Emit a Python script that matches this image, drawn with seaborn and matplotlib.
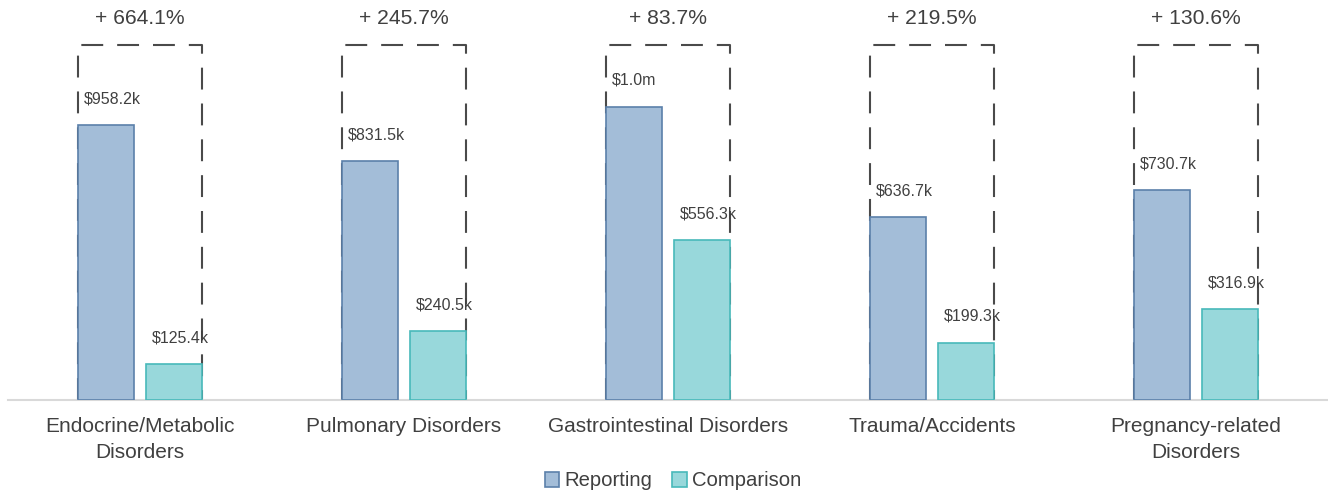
import pandas as pd
import numpy as np
import matplotlib
matplotlib.use("Agg")
import matplotlib.pyplot as plt
from matplotlib.patches import Patch
import seaborn as sns

# Data (values in $k)
categories = ["Endocrine/Metabolic\nDisorders", "Pulmonary Disorders", "Gastrointestinal Disorders",
              "Trauma/Accidents", "Pregnancy-related\nDisorders"]
reporting = [958.2, 831.5, 1021.9, 636.7, 730.7]
comparison = [125.4, 240.5, 556.3, 199.3, 316.9]
series = ["Reporting", "Comparison"]

fills = ["#a3bdd8", "#98d8db"]
edges = ["#5b80aa", "#48b9ba"]
text_color = "#404040"

df = pd.DataFrame({
    "category": categories * 2,
    "value": reporting + comparison,
    "series": [series[0]] * len(categories) + [series[1]] * len(categories),
})

sns.set_style("white")
plt.rcParams["font.family"] = ["Liberation Sans", "DejaVu Sans"]

fig = plt.figure(figsize=(13.28, 4.93), dpi=100)
ax = fig.add_axes([8 / 1328, 93 / 493, 1320 / 1328, 400 / 493])

sns.barplot(data=df, x="category", y="value", hue="series", order=categories,
            hue_order=series, palette=fills, saturation=1, width=0.516, gap=0.178,
            linewidth=1.2, legend=False, ax=ax, zorder=3)

for cont, ec in zip(ax.containers, edges):
    for bar in cont:
        bar.set_edgecolor(ec)

ax.set_ylim(0, 1394)
ax.set_xlim(-0.5, len(categories) - 0.5)
box_top = 1237

def fmt(v):
    if v >= 1000:
        return f"${v / 1000:.1f}m"
    return f"${v:.1f}k"

rep_bars, comp_bars = ax.containers[0], ax.containers[1]
for i in range(len(categories)):
    rb, cb = rep_bars[i], comp_bars[i]
    left = rb.get_x()
    right = cb.get_x() + cb.get_width()
    ax.plot([left, left, right, right], [0, box_top, box_top, 0],
            color="#4a4a4a", lw=1.5, linestyle=(0, (10.5, 6.7)), zorder=1,
            solid_capstyle="butt", dash_capstyle="butt")
    pct = (reporting[i] / comparison[i] - 1) * 100
    ax.text((left + right) / 2, 1328, f"+ {pct:.1f}%", ha="center", va="center",
            fontsize=15.2, color=text_color)
    for bar, v in ((rb, reporting[i]), (cb, comparison[i])):
        ax.annotate(fmt(v), xy=(bar.get_x(), v), xytext=(4.5, 19),
                    textcoords="offset points", ha="left", va="center",
                    fontsize=11.5, color=text_color, zorder=4)

for side in ["top", "left", "right"]:
    ax.spines[side].set_visible(False)
ax.spines["bottom"].set_color("#d9d9d9")
ax.spines["bottom"].set_linewidth(1.5)
ax.set_yticks([])
ax.tick_params(axis="x", length=0, pad=12, labelsize=15, labelcolor=text_color)
for lab in ax.get_xticklabels():
    lab.set_linespacing(1.5)
ax.set_xlabel("")
ax.set_ylabel("")

handles = [Patch(facecolor=f, edgecolor=e, linewidth=1.2) for f, e in zip(fills, edges)]
fig.legend(handles, series, loc="center", bbox_to_anchor=(673 / 1328, 1 - 481 / 493),
           ncol=2, frameon=False, fontsize=14.6, handlelength=0.7, handleheight=0.7,
           handletextpad=0.25, columnspacing=1.0, labelcolor=text_color)

fig.savefig("out.png", dpi=100)
